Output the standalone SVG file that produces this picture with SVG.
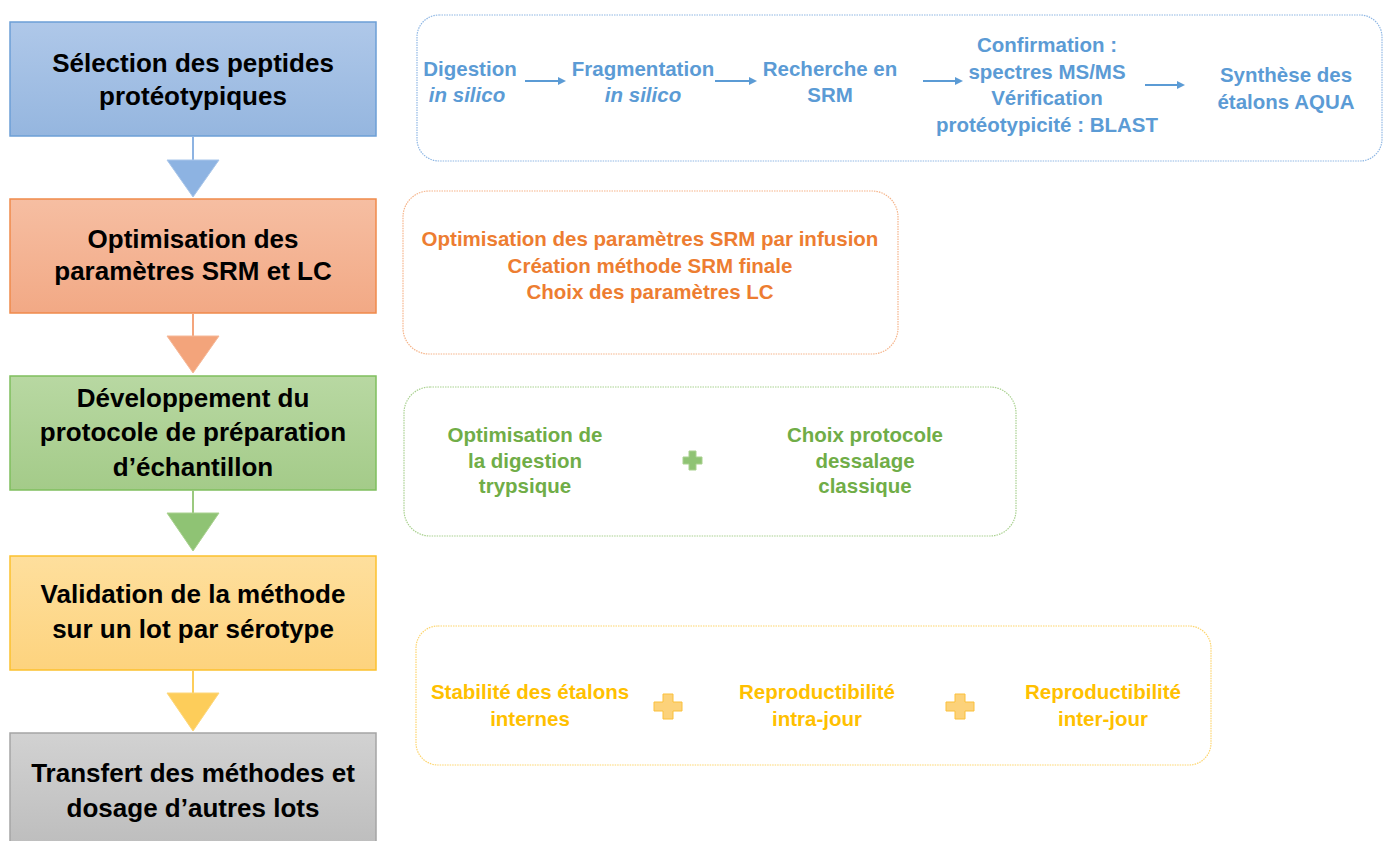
<svg xmlns="http://www.w3.org/2000/svg" width="1384" height="841" viewBox="0 0 1384 841">
<defs>
<linearGradient id="gB" x1="0" y1="0" x2="0" y2="1"><stop offset="0" stop-color="#afc8e9"/><stop offset="1" stop-color="#95b6df"/></linearGradient>
<linearGradient id="gO" x1="0" y1="0" x2="0" y2="1"><stop offset="0" stop-color="#f6bea2"/><stop offset="1" stop-color="#f2a985"/></linearGradient>
<linearGradient id="gG" x1="0" y1="0" x2="0" y2="1"><stop offset="0" stop-color="#b8d8a2"/><stop offset="1" stop-color="#a4cb89"/></linearGradient>
<linearGradient id="gY" x1="0" y1="0" x2="0" y2="1"><stop offset="0" stop-color="#fedf9d"/><stop offset="1" stop-color="#fdd37e"/></linearGradient>
<linearGradient id="gK" x1="0" y1="0" x2="0" y2="1"><stop offset="0" stop-color="#d2d2d2"/><stop offset="1" stop-color="#bcbcbc"/></linearGradient>
</defs>
<style>
.main{font-family:"Liberation Sans",Arial,sans-serif;font-weight:bold;font-size:26px;fill:#000;text-anchor:middle}
.sub{font-family:"Liberation Sans",Arial,sans-serif;font-weight:bold;font-size:20.5px;text-anchor:middle}
.it{font-style:italic}
.blue{fill:#5b9bd5}.orange{fill:#ed7d31}.green{fill:#70ad47}.yellow{fill:#ffc000}
.frame{fill:none;stroke-width:1.2;stroke-dasharray:1.5 1}
.arr{stroke:#5b9bd5;stroke-width:1.8;fill:none}
</style>
<rect width="1384" height="841" fill="#fff"/>

<g id="step1">
<rect x="10" y="22" width="366" height="114" fill="url(#gB)" stroke="#6c9fd6" stroke-width="1.5"/>
<text class="main" x="193" y="72">Sélection des peptides</text>
<text class="main" x="193" y="105">protéotypiques</text>
</g>
<g id="step2">
<rect x="10" y="199" width="366" height="114" fill="url(#gO)" stroke="#f08a4b" stroke-width="1.5"/>
<text class="main" x="193" y="248">Optimisation des</text>
<text class="main" x="193" y="280">paramètres  SRM et LC</text>
</g>
<g id="step3">
<rect x="10" y="376" width="366" height="114" fill="url(#gG)" stroke="#7fbf5e" stroke-width="1.5"/>
<text class="main" x="193" y="407">Développement du</text>
<text class="main" x="193" y="441">protocole de préparation</text>
<text class="main" x="193" y="476">d’échantillon</text>
</g>
<g id="step4">
<rect x="10" y="556" width="366" height="114" fill="url(#gY)" stroke="#fcc12e" stroke-width="1.5"/>
<text class="main" x="193" y="603">Validation de la méthode</text>
<text class="main" x="193" y="638">sur un lot par sérotype</text>
</g>
<g id="step5">
<rect x="10" y="733" width="366" height="120" fill="url(#gK)" stroke="#a5a5a5" stroke-width="1.5"/>
<text class="main" x="193" y="782">Transfert des méthodes et</text>
<text class="main" x="193" y="817">dosage d’autres lots</text>
</g>

<g id="detail1">
<rect class="frame" x="417" y="15" width="965" height="146" rx="22" stroke="#8fb7e4"/>
<text class="sub blue" x="470" y="76">Digestion</text>
<text class="sub blue it" x="467" y="102">in silico</text>
<text class="sub blue" x="643" y="76">Fragmentation</text>
<text class="sub blue it" x="643" y="102">in silico</text>
<text class="sub blue" x="830" y="76">Recherche en</text>
<text class="sub blue" x="830" y="102">SRM</text>
<text class="sub blue" x="1047" y="52">Confirmation :</text>
<text class="sub blue" x="1047" y="79">spectres MS/MS</text>
<text class="sub blue" x="1047" y="105">Vérification</text>
<text class="sub blue" x="1047" y="132">protéotypicité : BLAST</text>
<text class="sub blue" x="1286" y="82">Synthèse des</text>
<text class="sub blue" x="1286" y="109">étalons AQUA</text>
</g>

<g id="detail2">
<rect class="frame" x="403" y="191" width="495" height="163" rx="26" stroke="#f5b48a"/>
<text class="sub orange" x="650" y="246">Optimisation des paramètres SRM par infusion</text>
<text class="sub orange" x="650" y="273">Création méthode SRM finale</text>
<text class="sub orange" x="650" y="299">Choix des paramètres LC</text>
</g>

<g id="detail3">
<rect class="frame" x="404" y="387" width="612" height="149" rx="26" stroke="#a9d18f"/>
<text class="sub green" x="525" y="442">Optimisation de</text>
<text class="sub green" x="525" y="468">la digestion</text>
<text class="sub green" x="525" y="493">trypsique</text>
<path d="M689,451 h7 v6 h6 v7 h-6 v6 h-7 v-6 h-6 v-7 h6 z" fill="#8fc374" stroke="#a9d18f" stroke-width="1"/>
<text class="sub green" x="865" y="442">Choix protocole</text>
<text class="sub green" x="865" y="468">dessalage</text>
<text class="sub green" x="865" y="493">classique</text>
</g>

<g id="detail4">
<rect class="frame" x="416" y="626" width="795" height="139" rx="22" stroke="#fdd56e"/>
<text class="sub yellow" x="530" y="699">Stabilité des étalons</text>
<text class="sub yellow" x="530" y="726">internes</text>
<path d="M663,694 h10 v8 h9 v9 h-9 v8 h-10 v-8 h-9 v-9 h9 z" fill="#fcd27a" stroke="#fbc03a" stroke-width="1"/>
<text class="sub yellow" x="817" y="699">Reproductibilité</text>
<text class="sub yellow" x="817" y="726">intra-jour</text>
<path d="M955,694 h10 v8 h9 v9 h-9 v8 h-10 v-8 h-9 v-9 h9 z" fill="#fcd27a" stroke="#fbc03a" stroke-width="1"/>
<text class="sub yellow" x="1103" y="699">Reproductibilité</text>
<text class="sub yellow" x="1103" y="726">inter-jour</text>
</g>

<g id="connectors">
<line x1="193" y1="136" x2="193" y2="161" stroke="#8db3e2" stroke-width="2"/>
<polygon points="167,160 219,160 193,197" fill="#8db3e2" stroke="#a9c6ea" stroke-width="1"/>
<line x1="193" y1="313" x2="193" y2="337" stroke="#f4a57c" stroke-width="2"/>
<polygon points="167,336 219,336 193,373" fill="#f3a47b" stroke="#f6b898" stroke-width="1"/>
<line x1="193" y1="490" x2="193" y2="514" stroke="#9bc97f" stroke-width="2"/>
<polygon points="167,513 219,513 193,551" fill="#8fc374" stroke="#a9d18f" stroke-width="1"/>
<line x1="193" y1="670" x2="193" y2="694" stroke="#fdcd5a" stroke-width="2"/>
<polygon points="167,693 219,693 193,731" fill="#fdcd5a" stroke="#fdd77a" stroke-width="1"/>
<line class="arr" x1="525" y1="81" x2="560" y2="81"/><polygon points="558,77 566,81 558,85" fill="#5b9bd5"/>
<line class="arr" x1="715" y1="81" x2="751" y2="81"/><polygon points="749,77 757,81 749,85" fill="#5b9bd5"/>
<line class="arr" x1="923" y1="81" x2="957" y2="81"/><polygon points="955,77 963,81 955,85" fill="#5b9bd5"/>
<line class="arr" x1="1145" y1="85" x2="1179" y2="85"/><polygon points="1177,81 1185,85 1177,89" fill="#5b9bd5"/>
</g>
</svg>
